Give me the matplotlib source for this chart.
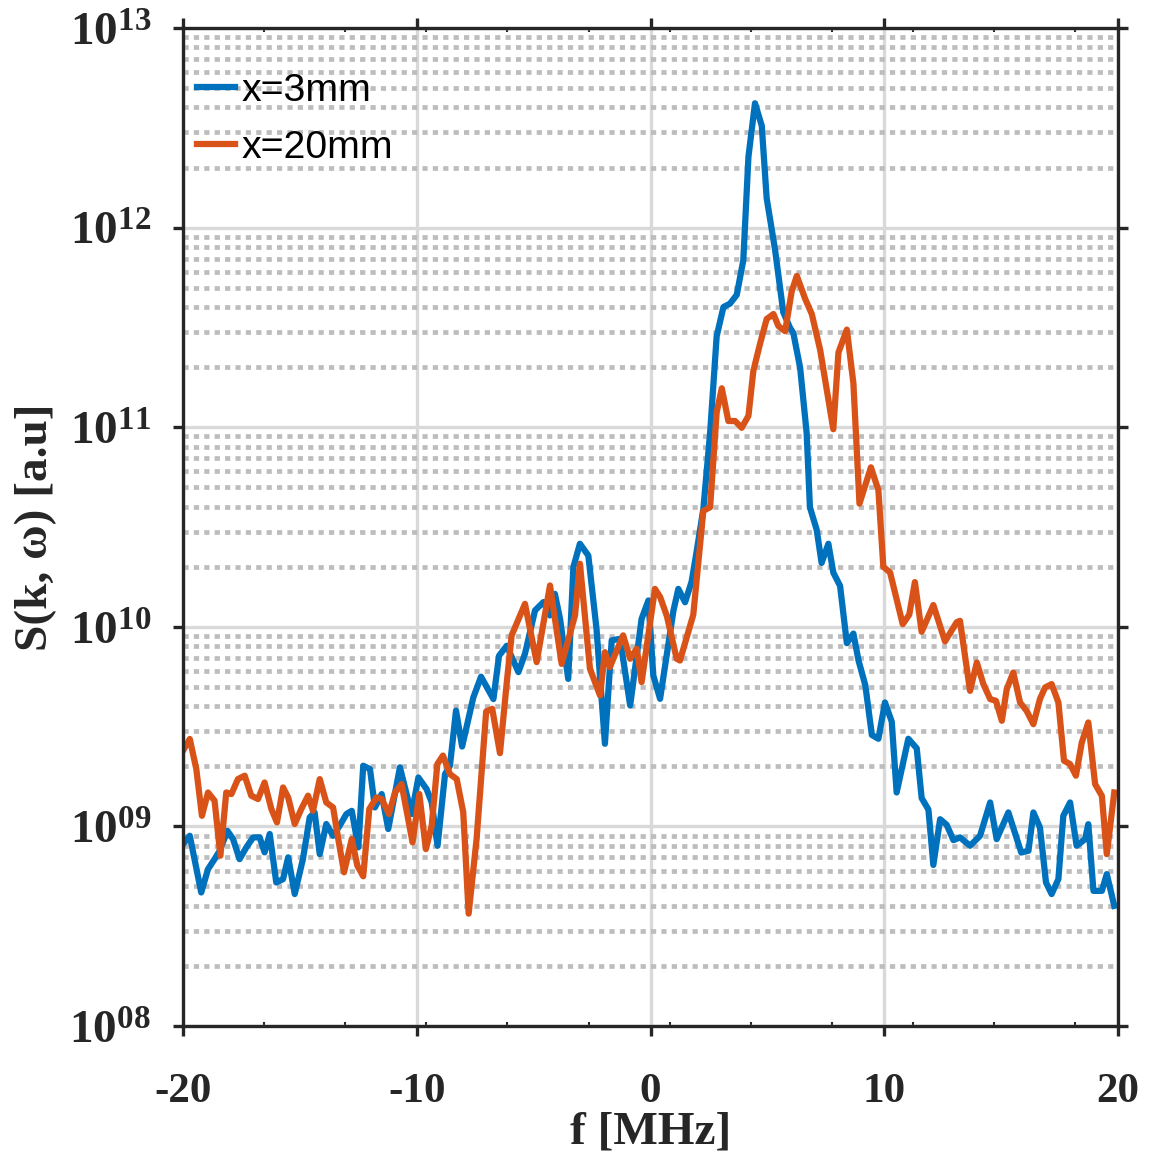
import numpy as np
import matplotlib
matplotlib.use("Agg")
import matplotlib.pyplot as plt
from matplotlib.ticker import FixedLocator, NullFormatter

# x = 3 mm, frequency [MHz] and log10 of S(k, w)
f_3mm = [-20.00, -19.71, -19.22, -18.93, -18.65, -18.43, -18.10, -17.86, -17.58, -17.29,
         -17.00, -16.72, -16.51, -16.29, -16.01, -15.72, -15.50, -15.22, -14.87, -14.58,
         -14.37, -14.15, -13.87, -13.58, -13.30, -13.01, -12.78, -12.50, -12.29, -12.00,
         -11.79, -11.50, -11.22, -10.72, -10.22, -9.93, -9.58, -9.36, -9.11, -8.79,
         -8.58, -8.32, -8.06, -7.58, -7.25, -6.72, -6.48, -6.15, -5.65, -5.37,
         -4.94, -4.58, -4.30, -4.09, -3.87, -3.52, -3.30, -3.02, -2.66, -2.31,
         -1.95, -1.66, -1.30, -0.87, -0.38, -0.09, 0.12, 0.41, 0.98, 1.19,
         1.48, 1.76, 1.98, 2.26, 2.55, 2.83, 3.12, 3.40, 3.69, 3.97,
         4.19, 4.47, 4.76, 4.97, 5.33, 5.68, 5.97, 6.11, 6.40, 6.68,
         6.82, 7.11, 7.32, 7.61, 7.82, 8.11, 8.40, 8.68, 8.90, 9.19,
         9.47, 9.75, 10.03, 10.32, 10.53, 11.03, 11.39, 11.60, 11.89, 12.10,
         12.39, 12.67, 12.96, 13.24, 13.67, 14.10, 14.53, 14.81, 15.31, 15.86,
         16.17, 16.38, 16.66, 16.92, 17.16, 17.45, 17.66, 17.95, 18.23, 18.59,
         18.73, 18.95, 19.31, 19.52, 19.84]
log_3mm = [8.911, 8.953, 8.669, 8.786, 8.836, 8.878, 8.978, 8.937, 8.836, 8.895,
           8.945, 8.945, 8.870, 8.962, 8.719, 8.736, 8.845, 8.661, 8.836, 9.045,
           9.070, 8.861, 9.012, 8.953, 9.003, 9.062, 9.078, 8.895, 9.304, 9.287,
           9.095, 9.162, 8.987, 9.296, 9.062, 9.245, 9.187, 9.120, 8.903, 9.262,
           9.304, 9.580, 9.400, 9.646, 9.750, 9.638, 9.855, 9.905, 9.773, 9.865,
           10.082, 10.124, 10.057, 10.165, 10.040, 9.739, 10.299, 10.416, 10.357, 9.990,
           9.414, 9.932, 9.940, 9.606, 10.040, 10.132, 9.756, 9.639, 10.080, 10.190,
           10.123, 10.227, 10.382, 10.590, 10.971, 11.455, 11.602, 11.619, 11.663, 11.836,
           12.355, 12.623, 12.510, 12.147, 11.888, 11.576, 11.498, 11.472, 11.299, 10.971,
           10.599, 10.486, 10.320, 10.416, 10.272, 10.205, 9.918, 9.966, 9.831, 9.707,
           9.458, 9.439, 9.621, 9.525, 9.170, 9.439, 9.391, 9.142, 9.084, 8.807,
           9.036, 9.008, 8.931, 8.945, 8.903, 8.953, 9.120, 8.936, 9.070, 8.869,
           8.878, 9.070, 8.995, 8.719, 8.661, 8.736, 9.053, 9.120, 8.903, 8.936,
           9.011, 8.677, 8.677, 8.761, 8.602]

# x = 20 mm
f_20mm = [-20.00, -19.71, -19.43, -19.19, -18.93, -18.65, -18.40, -18.15, -17.93, -17.65,
          -17.36, -17.08, -16.79, -16.51, -16.22, -15.98, -15.72, -15.50, -15.22, -14.94,
          -14.65, -14.44, -14.15, -13.87, -13.58, -13.37, -13.11, -12.78, -12.54, -12.29,
          -12.03, -11.72, -11.50, -11.19, -10.93, -10.65, -10.18, -9.89, -9.61, -9.36,
          -9.12, -8.88, -8.58, -8.29, -8.01, -7.78, -7.44, -7.03, -6.77, -6.44,
          -6.15, -5.94, -5.37, -4.87, -4.30, -3.80, -3.23, -3.02, -2.59, -2.16,
          -1.95, -1.74, -1.17, -0.87, -0.59, -0.38, 0.19, 0.41, 0.70, 1.12,
          1.26, 1.55, 1.83, 2.26, 2.55, 2.83, 3.05, 3.33, 3.62, 3.90,
          4.19, 4.40, 4.69, 4.97, 5.26, 5.47, 5.76, 6.04, 6.26, 6.61,
          6.90, 7.26, 7.82, 8.04, 8.40, 8.68, 8.94, 9.43, 9.75, 9.96,
          10.25, 10.79, 11.07, 11.31, 11.60, 12.10, 12.60, 13.10, 13.24, 13.67,
          13.96, 14.24, 14.53, 14.78, 15.03, 15.24, 15.52, 15.81, 16.09, 16.38,
          16.66, 16.88, 17.16, 17.45, 17.69, 17.95, 18.20, 18.45, 18.73, 19.02,
          19.31, 19.52, 19.84]
log_20mm = [9.379, 9.438, 9.287, 9.053, 9.170, 9.129, 8.853, 9.170, 9.162, 9.237,
            9.254, 9.154, 9.137, 9.220, 9.087, 9.020, 9.195, 9.145, 9.012, 9.087,
            9.154, 9.078, 9.237, 9.120, 9.095, 8.945, 8.770, 8.937, 8.803, 8.750,
            9.087, 9.145, 9.137, 9.062, 9.170, 9.212, 8.920, 9.162, 8.886, 9.003,
            9.312, 9.355, 9.262, 9.237, 9.070, 8.563, 8.937, 9.576, 9.589, 9.367,
            9.720, 9.957, 10.115, 9.823, 10.207, 9.814, 10.057, 10.316, 9.790, 9.656,
            9.873, 9.798, 9.957, 9.840, 9.890, 9.723, 10.190, 10.150, 10.054, 9.840,
            9.831, 9.948, 10.060, 10.581, 10.599, 11.074, 11.195, 11.031, 11.031, 10.997,
            11.057, 11.282, 11.420, 11.542, 11.567, 11.507, 11.481, 11.680, 11.758, 11.645,
            11.567, 11.386, 10.990, 11.374, 11.489, 11.220, 10.617, 10.799, 10.684, 10.301,
            10.272, 10.013, 10.061, 10.224, 9.975, 10.109, 9.927, 10.023, 10.030, 9.679,
            9.821, 9.713, 9.638, 9.629, 9.529, 9.688, 9.771, 9.621, 9.579, 9.512,
            9.638, 9.696, 9.713, 9.621, 9.329, 9.312, 9.254, 9.420, 9.521, 9.212,
            9.153, 8.861, 9.170]

x_major = [-20, -10, 0, 10, 20]
x_minor = [-16.53, -13.06, -9.59, -6.12, -2.65, 0.82, 4.29, 7.76, 11.23, 14.70, 18.17]
y_major = [1e8, 1e9, 1e10, 1e11, 1e12, 1e13]
y_ticklabels = [r"$10^{08}$", r"$10^{09}$", r"$10^{10}$", r"$10^{11}$", r"$10^{12}$", r"$10^{13}$"]

plt.rcParams["mathtext.fontset"] = "custom"
plt.rcParams["mathtext.rm"] = "Liberation Serif:bold"
plt.rcParams["mathtext.bf"] = "Liberation Serif:bold"
plt.rcParams["mathtext.it"] = "Liberation Serif:bold"

BLUE = "#0072BD"
ORANGE = "#D95319"
DARK = "#262626"

fig = plt.figure(figsize=(11.55, 11.6), dpi=100)
ax = fig.add_axes([183 / 1155, 1 - 1026 / 1160, 935 / 1155, 998 / 1160])

ax.plot(f_3mm, np.power(10.0, log_3mm), color=BLUE, lw=4.5, label="x=3mm",
        solid_joinstyle="round")
ax.plot(f_20mm, np.power(10.0, log_20mm), color=ORANGE, lw=4.5, label="x=20mm",
        solid_joinstyle="round")

ax.set_yscale("log")
ax.set_xlim(-20, 20)
ax.set_ylim(1e8, 1e13)

ax.xaxis.set_major_locator(FixedLocator(x_major))
ax.xaxis.set_minor_locator(FixedLocator(x_minor))
ax.set_xticklabels(["-20", "-10", "0", "10", "20"])
ax.yaxis.set_major_locator(FixedLocator(y_major))
ax.set_yticklabels(y_ticklabels)
ax.yaxis.set_minor_formatter(NullFormatter())

ax.set_axisbelow(True)
ax.grid(True, which="major", axis="both", color="#d9d9d9", lw=2.4, ls="-")
ax.grid(True, which="minor", axis="y", color="#bdbdbd", lw=3.4, ls=(0, (1.1, 1.1)))
ax.grid(False, which="minor", axis="x")

for spine in ax.spines.values():
    spine.set_color(DARK)
    spine.set_linewidth(2.4)

ax.tick_params(which="major", axis="both", direction="out", length=7, width=2.4,
               color=DARK, top=True, right=True)
ax.tick_params(which="major", axis="x", pad=27)
ax.tick_params(which="major", axis="y", pad=16)
ax.tick_params(which="minor", axis="x", direction="in", length=3, width=1.5,
               color=DARK, top=True, bottom=True)
ax.tick_params(which="minor", axis="y", length=0)

for lab in ax.get_xticklabels():
    lab.set_fontfamily("Liberation Serif")
    lab.set_fontweight("bold")
    lab.set_fontsize(31)
    lab.set_color(DARK)
for lab in ax.get_yticklabels():
    lab.set_fontsize(34)
    lab.set_color(DARK)

ax.set_xlabel("f [MHz]", family="Liberation Serif", fontweight="bold",
              fontsize=34, color=DARK)
ax.xaxis.set_label_coords(0.5, -0.086)
ax.set_ylabel("S(k, ω) [a.u]", family="Liberation Serif", fontweight="bold",
              fontsize=34, color=DARK)
ax.yaxis.set_label_coords(-0.135, 0.5)

leg = ax.legend(loc="upper left", bbox_to_anchor=(0.0, 0.969), frameon=False,
                prop={"family": "Liberation Sans", "size": 28.3},
                handlelength=0.97, handletextpad=0.18, labelspacing=0.53,
                borderaxespad=0.0, borderpad=0.35)
for t in leg.get_texts():
    t.set_color("black")

fig.savefig("out.png", dpi=100, facecolor="white")
